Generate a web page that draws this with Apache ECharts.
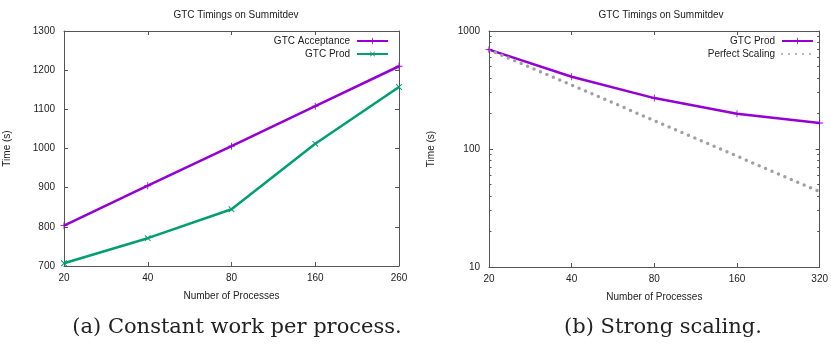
<!DOCTYPE html>
<html>
<head>
    <meta charset="utf-8">
    <title>GTC Timings on Summitdev</title>
    <script src="https://cdn.jsdelivr.net/npm/echarts@6/dist/echarts.min.js"></script>
    <style>
        html, body { margin: 0; padding: 0; background: #fff; }
    </style>
</head>
<body>
    <div id="main" style="width: 831px;height:344px;"></div>
    <script type="text/javascript">
        // (a) constant work per process
        var procsA = ['20', '40', '80', '160', '260'];
        var acceptance = [803, 905, 1006, 1108, 1210];
        var prodA = [707, 771, 845, 1012, 1157];

        // (b) strong scaling
        var procsB = ['20', '40', '80', '160', '320'];
        var prodB = [695, 410, 270, 199, 166];
        var perfect = [695, 348, 174, 87, 43.5];
        var logMinor = [20, 30, 40, 50, 60, 70, 80, 90, 200, 300, 400, 500, 600, 700, 800, 900];

        var purple = '#9400d3';
        var green = '#009e73';
        var grey = '#a0a0a0';
        var frame = '#555';
        var font = 'Liberation Sans';

        // gnuplot-ish "+" marker (rotated 45 deg for the "x")
        var plus = 'path://M4.4,0H5.6V4.4H10V5.6H5.6V10H4.4V5.6H0V4.4H4.4Z';

        var myChart = echarts.init(document.getElementById('main'));

        function xAx(idx, cats, pos, show) {
            return {
                type: 'category', gridIndex: idx, data: cats, position: pos,
                boundaryGap: false,
                axisLine: { show: true, lineStyle: { color: frame, width: 1 } },
                axisTick: { show: true, inside: true, length: 4, alignWithLabel: true, lineStyle: { color: frame } },
                axisLabel: { show: show, color: '#222', fontSize: 10, fontFamily: font, margin: 7, showMaxLabel: true, showMinLabel: true },
                splitLine: { show: false },
                name: show ? 'Number of Processes' : '',
                nameLocation: 'middle', nameGap: 25,
                nameTextStyle: { color: '#222', fontSize: 10, fontFamily: font }
            };
        }

        // minor ticks of the log axis (drawn on a plain axis in log10 units)
        function minorAx(pos) {
            return {
                type: 'value', gridIndex: 1, min: 1, max: 3, position: pos,
                axisLine: { show: false },
                axisTick: { show: true, inside: true, length: 2.5, lineStyle: { color: frame },
                            customValues: logMinor.map(function (v) { return Math.log10(v); }) },
                axisLabel: { show: false }, splitLine: { show: false }
            };
        }

        var plain = function (v) { return String(v); };

        var option = {
            animation: false,
            title: [
                { text: 'GTC Timings on Summitdev', left: 231, top: 5, textAlign: 'center',
                  textStyle: { fontSize: 10, fontWeight: 'normal', color: '#222', fontFamily: font } },
                { text: 'GTC Timings on Summitdev', left: 656, top: 5, textAlign: 'center',
                  textStyle: { fontSize: 10, fontWeight: 'normal', color: '#222', fontFamily: font } },
                { text: '(a) Constant work per process.', left: 232, top: 312, textAlign: 'center',
                  textStyle: { fontSize: 21, fontWeight: 'normal', color: '#222', fontFamily: 'DejaVu Serif' } },
                { text: '(b) Strong scaling.', left: 658, top: 312, textAlign: 'center',
                  textStyle: { fontSize: 21, fontWeight: 'normal', color: '#222', fontFamily: 'DejaVu Serif' } }
            ],
            legend: [
                { orient: 'vertical', right: 437, top: 31, align: 'right', itemWidth: 31, itemHeight: 8, itemGap: 3,
                  data: ['GTC Acceptance', 'GTC Prod'],
                  textStyle: { fontSize: 10, color: '#222', fontFamily: font, padding: [0, 2, 0, 0] } },
                { orient: 'vertical', right: 12, top: 31, align: 'right', itemWidth: 31, itemHeight: 8, itemGap: 3,
                  data: ['GTC Prod (b)', { name: 'Perfect Scaling', itemStyle: { opacity: 0 } }],
                  formatter: function (n) { return n.replace(' (b)', ''); },
                  textStyle: { fontSize: 10, color: '#222', fontFamily: font, padding: [0, 2, 0, 0] } }
            ],
            grid: [
                { left: 64, right: 432, top: 31, bottom: 78 },
                { left: 489, right: 7, top: 31, bottom: 77 }
            ],
            xAxis: [
                xAx(0, procsA, 'bottom', true),
                xAx(0, procsA, 'top', false),
                xAx(1, procsB, 'bottom', true),
                xAx(1, procsB, 'top', false)
            ],
            yAxis: [
                {
                    type: 'value', gridIndex: 0, min: 700, max: 1300, interval: 100, position: 'left',
                    axisLine: { show: true, lineStyle: { color: frame } },
                    axisTick: { show: true, inside: true, length: 4, lineStyle: { color: frame } },
                    axisLabel: { color: '#222', fontSize: 10, fontFamily: font, margin: 9, formatter: plain },
                    splitLine: { show: false },
                    name: 'Time (s)', nameLocation: 'middle', nameGap: 52,
                    nameTextStyle: { color: '#222', fontSize: 10, fontFamily: font }
                },
                {
                    type: 'value', gridIndex: 0, min: 700, max: 1300, interval: 100, position: 'right',
                    axisLine: { show: true, lineStyle: { color: frame } },
                    axisTick: { show: true, inside: true, length: 4, lineStyle: { color: frame } },
                    axisLabel: { show: false }, splitLine: { show: false }
                },
                {
                    type: 'log', logBase: 10, gridIndex: 1, min: 10, max: 1000, position: 'left',
                    axisLine: { show: true, lineStyle: { color: frame } },
                    axisTick: { show: true, inside: true, length: 4, lineStyle: { color: frame } },
                    axisLabel: { color: '#222', fontSize: 10, fontFamily: font, margin: 9, formatter: plain },
                    splitLine: { show: false },
                    name: 'Time (s)', nameLocation: 'middle', nameGap: 53,
                    nameTextStyle: { color: '#222', fontSize: 10, fontFamily: font }
                },
                {
                    type: 'log', logBase: 10, gridIndex: 1, min: 10, max: 1000, position: 'right',
                    axisLine: { show: true, lineStyle: { color: frame } },
                    axisTick: { show: true, inside: true, length: 4, lineStyle: { color: frame } },
                    axisLabel: { show: false }, splitLine: { show: false }
                },
                minorAx('left'),
                minorAx('right')
            ],
            series: [
                {
                    name: 'GTC Acceptance', type: 'line', xAxisIndex: 0, yAxisIndex: 0,
                    data: acceptance, symbol: plus, symbolSize: 7,
                    lineStyle: { color: purple, width: 2.5 }, itemStyle: { color: purple }
                },
                {
                    name: 'GTC Prod', type: 'line', xAxisIndex: 0, yAxisIndex: 0,
                    data: prodA, symbol: plus, symbolSize: 8, symbolRotate: 45,
                    lineStyle: { color: green, width: 2.5 }, itemStyle: { color: green }
                },
                {
                    name: 'GTC Prod (b)', type: 'line', xAxisIndex: 2, yAxisIndex: 2,
                    data: prodB, symbol: plus, symbolSize: 7,
                    lineStyle: { color: purple, width: 2.5 }, itemStyle: { color: purple }
                },
                {
                    name: 'Perfect Scaling', type: 'line', xAxisIndex: 2, yAxisIndex: 2,
                    data: perfect, symbol: 'none',
                    lineStyle: { color: grey, width: 3.5, type: [0, 7], cap: 'round' },
                    itemStyle: { color: grey }
                }
            ]
        };

        myChart.setOption(option);
    </script>
</body>
</html>
